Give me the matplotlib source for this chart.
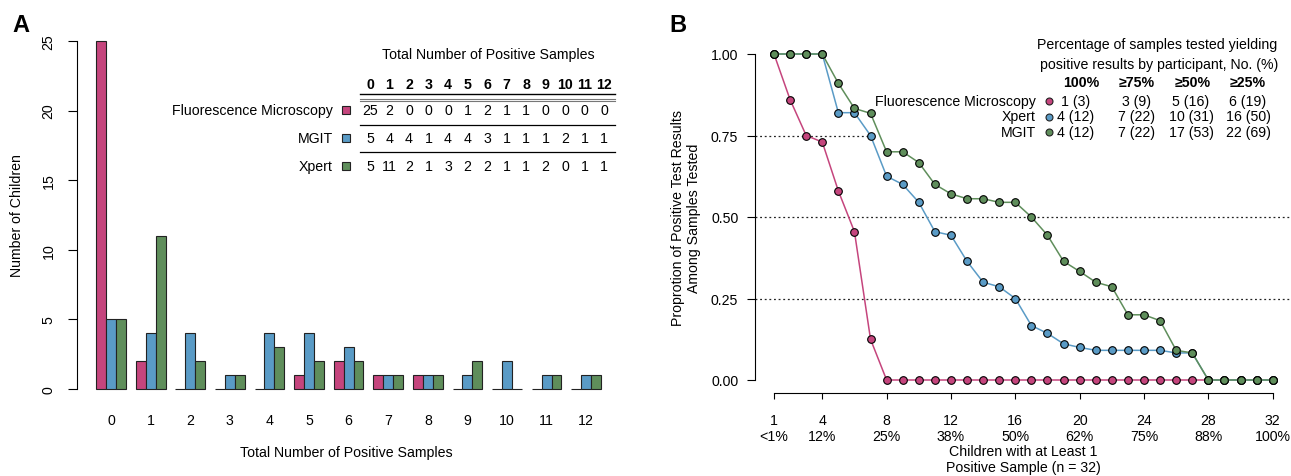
import numpy as np
import matplotlib.pyplot as plt

plt.rcParams['font.family'] = ['Liberation Sans', 'DejaVu Sans']
plt.rcParams['font.size'] = 10.2

# ---- panel A: number of children by total positive samples
n_pos = list(range(13))
fm_counts = [25, 2, 0, 0, 0, 1, 2, 1, 1, 0, 0, 0, 0]
mgit_counts = [5, 4, 4, 1, 4, 4, 3, 1, 1, 1, 2, 1, 1]
xpert_counts = [5, 11, 2, 1, 3, 2, 2, 1, 1, 2, 0, 1, 1]
table_a_rows = ['Fluorescence Microscopy', 'MGIT', 'Xpert']

# ---- panel B: proportion of positive results, children sorted
children = list(range(1, 33))
fm_prop = [1.0, 0.86, 0.75, 0.73, 0.58, 0.455, 0.125, 0, 0, 0, 0, 0, 0, 0, 0, 0,
           0, 0, 0, 0, 0, 0, 0, 0, 0, 0, 0, 0, 0, 0, 0, 0]
xpert_prop = [1, 1, 1, 1, 0.82, 0.82, 0.75, 0.625, 0.6, 0.545, 0.455, 0.444, 0.364, 0.3,
              0.286, 0.25, 0.167, 0.143, 0.111, 0.1, 0.091, 0.091, 0.091, 0.091, 0.091,
              0.083, 0.083, 0, 0, 0, 0, 0]
mgit_prop = [1, 1, 1, 1, 0.91, 0.833, 0.818, 0.7, 0.7, 0.667, 0.6, 0.571, 0.556, 0.556,
             0.545, 0.545, 0.5, 0.444, 0.364, 0.333, 0.3, 0.286, 0.2, 0.2, 0.182,
             0.091, 0.083, 0, 0, 0, 0, 0]
b_xticks = [1, 4, 8, 12, 16, 20, 24, 28, 32]
b_xticklabels = ['1\n<1%', '4\n12%', '8\n25%', '12\n38%', '16\n50%', '20\n62%',
                 '24\n75%', '28\n88%', '32\n100%']
legend_b_names = ['Fluorescence Microscopy', 'Xpert', 'MGIT']
legend_b_cols = ['100%', '≥75%', '≥50%', '≥25%']
fm_summary = ['1 (3)', '3 (9)', '5 (16)', '6 (19)']
xpert_summary = ['4 (12)', '7 (22)', '10 (31)', '16 (50)']
mgit_summary = ['4 (12)', '7 (22)', '17 (53)', '22 (69)']

pink = '#C5457D'
blue = '#5A9BC6'
green = '#5F8E5B'
edge = '#222222'

W, H = 1291, 477
fig = plt.figure(figsize=(W / 100, H / 100), dpi=100)


def box(x0, y0, x1, y1):
    # pixel box (origin top-left) -> figure fraction rect
    return [x0 / W, 1 - y1 / H, (x1 - x0) / W, (y1 - y0) / H]


# ================= panel A
axA = fig.add_axes(box(77, 42, 608, 390))
x = np.arange(len(n_pos))
bw = 0.25
for off, vals, c in [(-bw, fm_counts, pink), (0, mgit_counts, blue), (bw, xpert_counts, green)]:
    axA.bar(x + off, vals, bw, color=c, edgecolor=edge, linewidth=0.8, zorder=2,
            clip_on=False)
axA.set_xlim(-0.86, 12.55)
axA.set_ylim(0, 25)
for s in ['top', 'right', 'bottom']:
    axA.spines[s].set_visible(False)
axA.spines['left'].set_linewidth(0.8)
axA.set_yticks([0, 5, 10, 15, 20, 25])
axA.tick_params(axis='y', length=6.5, width=0.8, pad=9, labelrotation=90)
for lab in axA.get_yticklabels():
    lab.set_va('center')
axA.set_xticks(x)
axA.set_xticklabels([str(v) for v in n_pos])
axA.tick_params(axis='x', length=0, pad=17)

# ================= panel B
x_left = 1 - (774 - 755) / 16.08
x_right = 32 + (1291 - 1272.7) / 16.08
axB = fig.add_axes(box(755, 55, 1291, 381))
axB.set_xlim(x_left, x_right)
axB.set_ylim(0, 1)
dots = dict(ls=(0, (1.5, 2.2)), color='#222222', lw=0.9, zorder=1)
axB.axhline(0.5, **dots)
axB.axhline(0.25, **dots)
axB.hlines(0.75, x_left, 7, **dots)
for prop, c in [(fm_prop, pink), (xpert_prop, blue), (mgit_prop, green)]:
    axB.plot(children, prop, '-o', color=c, mfc=c, mec='black', ms=5.5, mew=0.8,
             lw=1.1, clip_on=False, zorder=3)
for s in ['top', 'right']:
    axB.spines[s].set_visible(False)
axB.spines['left'].set_bounds(0, 1)
axB.spines['bottom'].set_bounds(1, 32)
axB.spines['bottom'].set_position(('outward', 9.4))
for s in ['left', 'bottom']:
    axB.spines[s].set_linewidth(0.8)
axB.set_yticks([0, 0.25, 0.5, 0.75, 1.0])
axB.set_yticklabels(['0.00', '0.25', '0.50', '0.75', '1.00'])
axB.tick_params(axis='y', length=6, width=0.8, pad=6)
axB.set_xticks(b_xticks)
axB.set_xticklabels(b_xticklabels)
axB.tick_params(axis='x', length=4.5, width=0.8, pad=10)

# ================= overlay for labels and tables (pixel coords)
ov = fig.add_axes([0, 0, 1, 1])
ov.set_xlim(0, W)
ov.set_ylim(H, 0)
ov.axis('off')

ov.text(21, 25, 'A', fontsize=17, fontweight='bold', ha='center', va='center')
ov.text(678, 25, 'B', fontsize=17, fontweight='bold', ha='center', va='center')

ov.text(17, 216, 'Number of Children', rotation=90, ha='center', va='center')
ov.text(346, 453, 'Total Number of Positive Samples', ha='center', va='center')
ov.text(686, 218, 'Proprotion of Positive Test Results\nAmong Samples Tested',
        rotation=90, ha='center', va='center', linespacing=1.15)
ov.text(1023, 460, 'Children with at Least 1\nPositive Sample (n = 32)',
        ha='center', va='center', linespacing=1.15)

# panel A table
col_x = [370 + 19.5 * j for j in range(len(n_pos))]
ov.text(488, 55, 'Total Number of Positive Samples', ha='center', va='center')
for cx, v in zip(col_x, n_pos):
    ov.text(cx, 85, str(v), ha='center', va='center', fontweight='bold')
ov.plot([360, 615], [95, 95], color='black', lw=1)
ov.plot([360, 615], [99.5, 99.5], color='#777777', lw=0.8)
ov.plot([360, 615], [101.5, 101.5], color='#777777', lw=0.8)
ov.plot([360, 615], [126, 126], color='black', lw=0.9)
ov.plot([360, 615], [153, 153], color='black', lw=0.9)
for ry, name, vals, c in zip([111, 139, 167], table_a_rows,
                             [fm_counts, mgit_counts, xpert_counts], [pink, blue, green]):
    ov.text(333, ry, name, ha='right', va='center')
    ov.plot([346], [ry], 's', color=c, mec=edge, mew=0.8, ms=5.5)
    for cx, v in zip(col_x, vals):
        ov.text(cx, ry, str(v), ha='center', va='center')

# panel B legend table
ov.text(1157, 45, 'Percentage of samples tested yielding', ha='center', va='center')
ov.text(1159, 65, 'positive results by participant, No. (%)', ha='center', va='center')
for cx, t in zip([1081, 1137, 1193, 1248], legend_b_cols):
    ov.text(cx, 83, t, ha='center', va='center', fontweight='bold')
for ry, name, vals, c in zip([102, 117.5, 133], legend_b_names,
                             [fm_summary, xpert_summary, mgit_summary], [pink, blue, green]):
    ov.text(1036, ry, name, ha='right', va='center')
    ov.plot([1049], [ry], 'o', color=c, mec=edge, mew=0.8, ms=5)
    for cx, t in zip([1076, 1136, 1191, 1248], vals):
        ov.text(cx, ry, t, ha='center', va='center')

fig.savefig('out.png', dpi=100)
